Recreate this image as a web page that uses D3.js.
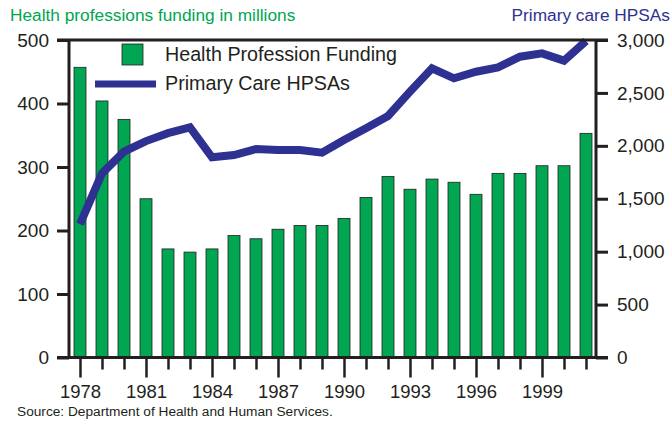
<!DOCTYPE html>
<html>
<head>
<meta charset="utf-8">
<script src="https://cdn.jsdelivr.net/npm/d3@7"></script>
<style>
  body { margin: 0; background: #fff; }
  svg { display: block; font-family: "Liberation Sans", Arial, Helvetica, sans-serif; }
</style>
</head>
<body>
<div id="chart"></div>
<script>
'use strict';

// data
const years = d3.range(1978, 2002);
const funding = [457, 404, 375, 250, 171, 166, 171, 192, 187, 202, 208, 208,
                 219, 252, 285, 265, 281, 276, 257, 290, 290, 302, 302, 353];
const hpsas = [1260, 1740, 1945, 2045, 2120, 2175, 1892, 1913, 1970, 1960, 1960, 1935,
               2055, 2166, 2282, 2512, 2733, 2638, 2700, 2742, 2842, 2874, 2805, 2990];
const leftTicks = [0, 100, 200, 300, 400, 500];
const rightTicks = [0, 500, 1000, 1500, 2000, 2500, 3000];
const labelYears = [1978, 1981, 1984, 1987, 1990, 1993, 1996, 1999];

const width = 670, height = 422;
const ink = '#231f20', green = '#00a651', blue = '#2e3192';
const axisLeftX = 69, axisRightX = 596, plotTop = 40, plotBottom = 357.5;

const svg = d3.select('#chart').append('svg')
  .attr('width', width).attr('height', height);

let x = d3.scalePoint().domain(years).range([80, 586]);
let yL = d3.scaleLinear().domain([0, 500]).range([plotBottom, plotTop]);
let yR = d3.scaleLinear().domain([0, 3000]).range([plotBottom, plotTop]);

// titles
svg.append('text').attr('x', 10).attr('y', 21)
  .attr('fill', green).style('font-size', '17.3px')
  .text('Health professions funding in millions');
svg.append('text').attr('x', 670).attr('y', 21)
  .attr('fill', blue).attr('text-anchor', 'end').style('font-size', '17.3px')
  .text('Primary care HPSAs');

// bars
svg.selectAll('rect.bar').data(funding).enter()
  .append('rect')
  .attr('class', 'bar')
  .attr('x', (d, i) => x(years[i]) - 6)
  .attr('width', 12)
  .attr('y', d => yL(d))
  .attr('height', d => plotBottom - yL(d))
  .attr('fill', green)
  .attr('stroke', ink).attr('stroke-width', 0.8);

// line
const line = d3.line()
  .x((d, i) => x(years[i]))
  .y(d => yR(d));
svg.append('path').datum(hpsas)
  .attr('d', line)
  .attr('fill', 'none')
  .attr('stroke', blue)
  .attr('stroke-width', 8)
  .attr('stroke-linejoin', 'miter');

// left axis
let gl = svg.append('g').attr('transform', 'translate(' + axisLeftX + ',0)')
  .call(d3.axisLeft(yL).tickValues(leftTicks).tickSize(12).tickPadding(8));
// right axis
let gr = svg.append('g').attr('transform', 'translate(' + axisRightX + ',0)')
  .call(d3.axisRight(yR).tickValues(rightTicks).tickSize(12).tickPadding(9)
    .tickFormat(d3.format(',')));
[gl, gr].forEach(g => {
  g.select('.domain').remove();
  g.selectAll('line').attr('stroke', ink).attr('stroke-width', 3);
  g.selectAll('text').attr('fill', ink).style('font-size', '19px');
});
svg.append('line').attr('x1', axisLeftX).attr('x2', axisLeftX)
  .attr('y1', plotTop).attr('y2', plotBottom).attr('stroke', ink).attr('stroke-width', 3);
svg.append('line').attr('x1', axisRightX).attr('x2', axisRightX)
  .attr('y1', plotTop).attr('y2', plotBottom).attr('stroke', ink).attr('stroke-width', 3);
// frame top / bottom
[plotTop, plotBottom].forEach(yy => {
  svg.append('line').attr('x1', axisLeftX - 12).attr('x2', axisRightX + 12)
    .attr('y1', yy).attr('y2', yy).attr('stroke', ink).attr('stroke-width', 3);
});

// x axis
let gx = svg.append('g').attr('transform', 'translate(0,' + plotBottom + ')')
  .call(d3.axisBottom(x).tickSize(12).tickPadding(10)
    .tickFormat(d => labelYears.includes(d) ? d : ''));
gx.select('.domain').remove();
gx.selectAll('line').attr('stroke', ink).attr('stroke-width', 2.5)
  .attr('y2', d => labelYears.includes(d) ? 20 : 12);
gx.selectAll('text').attr('fill', ink).style('font-size', '18.5px')
  .attr('y', 27);

// legend
svg.append('rect').attr('x', 122).attr('y', 44).attr('width', 21).attr('height', 21)
  .attr('fill', green).attr('stroke', ink).attr('stroke-width', 0.8);
svg.append('text').attr('x', 165).attr('y', 61).attr('fill', ink)
  .style('font-size', '19.7px').text('Health Profession Funding');
svg.append('line').attr('x1', 95).attr('x2', 156).attr('y1', 84).attr('y2', 84)
  .attr('stroke', blue).attr('stroke-width', 7);
svg.append('text').attr('x', 165).attr('y', 90).attr('fill', ink)
  .style('font-size', '19.7px').text('Primary Care HPSAs');

// source
svg.append('text').attr('x', 17).attr('y', 416).attr('fill', ink)
  .style('font-size', '13.7px').text('Source: Department of Health and Human Services.');
</script>
</body>
</html>
